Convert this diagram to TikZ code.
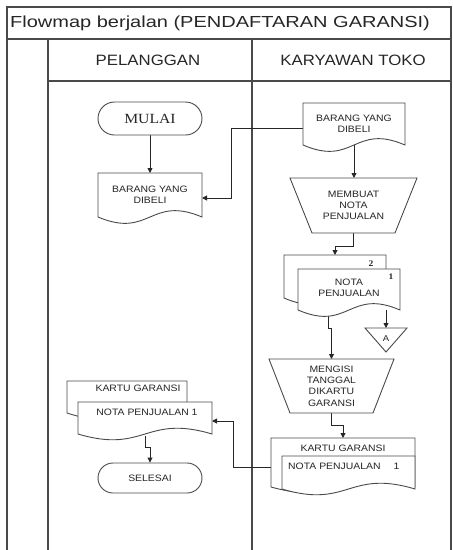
\documentclass[tikz,border=0pt]{standalone}
\usepackage{fontspec}
\setmainfont{Liberation Sans}[FakeStretch=1.12]
\newfontfamily\titlefont{Liberation Sans}[FakeStretch=1.25]
\newfontfamily\termfont{Liberation Serif}[FakeStretch=1.12]
\usetikzlibrary{calc,arrows.meta}

\pgfdeclarelayer{bg}
\pgfdeclarelayer{shapes}
\pgfsetlayers{bg,shapes,main}

\definecolor{ink}{HTML}{262626}
\definecolor{rule}{HTML}{4A4A4A}

\tikzset{
  frameline/.style={draw=rule, line width=1.1pt},
  outline/.style={draw=rule, line width=0.9pt, fill=white},
  arr/.style={draw=ink, line width=0.9pt, -{Triangle[length=5pt,width=5pt]}},
  lanehead/.style={font=\fontsize{15}{17}\selectfont, text=ink},
  doctext/.style={font=\fontsize{9.3}{11.2}\selectfont, text=ink, align=center, inner sep=0pt},
  box/.style 2 args={inner sep=0pt, outer sep=0pt, minimum width=#1pt, minimum height=#2pt,
    doctext},
  term/.style={draw=rule, line width=0.9pt, fill=white, inner sep=0pt,
    minimum width=104pt, minimum height=#1pt, rounded corners=#1/2*1pt},
  pagenum/.style={font=\termfont\bfseries\fontsize{8.5}{9}\selectfont, text=ink, inner sep=0pt},
}

% document symbol: flat top, S-shaped lower edge
\newcommand\docoutline[2][20]{%
  \begin{pgfonlayer}{shapes}
  \path[outline] (#2.north west) -- (#2.north east) -- (#2.south east)
    .. controls ($(#2.south)+(0,-#1)$) and ($(#2.south)+(0,#1)$) .. (#2.south west) -- cycle;
  \end{pgfonlayer}}

% manual operation symbol: trapezoid narrowing downwards
\newcommand\manualop[2]{%
  \begin{pgfonlayer}{shapes}
  \path[outline] (#1.north west) -- (#1.north east) -- ($(#1.south east)+(-#2,0)$)
    -- ($(#1.south west)+(#2,0)$) -- cycle;
  \end{pgfonlayer}}

\begin{document}
\begin{tikzpicture}[x=1pt,y=-1pt]
\useasboundingbox (0,0) rectangle (453,550);

% ---- swimlane frame ----
\node[anchor=west, inner sep=0pt, text=ink, font=\titlefont\fontsize{16}{18}\selectfont]
  (title) at (10,23.5) {Flowmap berjalan (PENDAFTARAN GARANSI)};
\node[lanehead] (laneA) at (148,60) {PELANGGAN};
\node[lanehead] (laneB) at (353,60) {KARYAWAN TOKO};

% ---- PELANGGAN lane ----
\node[term=33, font=\termfont\fontsize{14}{16}\selectfont, text=ink]
  (m) at (150,118.5) {MULAI};
\node[box={104}{44}] (d1) at (150,195) {BARANG YANG\\DIBELI};
\docoutline[22]{d1}

\node[box={120}{32}] (b5) at (127,397) {};
\node[box={134}{32}] (f5) at (145,418) {};
\docoutline[20]{b5}
\docoutline[20]{f5}
\node[doctext] (b5t) at (138,388) {KARTU GARANSI};
\node[doctext] (f5t) at (147,412) {NOTA PENJUALAN 1};

\node[term=30, font=\fontsize{9.3}{11}\selectfont, text=ink] (s) at (150,478) {SELESAI};

% ---- KARYAWAN TOKO lane ----
\node[box={102}{42}] (d2) at (354,124) {BARANG YANG\\DIBELI};
\docoutline[22]{d2}

\node[box={127}{55}] (t1) at (353.5,205.5) {MEMBUAT\\NOTA\\PENJUALAN};
\manualop{t1}{22}

\node[box={102}{43}] (n1b) at (335,276.5) {};
\node[box={102}{41}] (n1) at (349,289.5) {};
\docoutline[22]{n1b}
\docoutline[22]{n1}
\node[doctext] (n1t) at (349,287.5) {NOTA\\PENJUALAN};
\node[pagenum] (p2) at (371,264) {2};
\node[pagenum] (p1) at (391,277) {1};

% off-page connector
\coordinate (conAtop) at (386,328);
\begin{pgfonlayer}{shapes}
  \path[outline] (365,328) -- (407,328) -- (386,352) -- cycle;
\end{pgfonlayer}
\node[doctext, font=\fontsize{8.5}{10}\selectfont] (conA) at (386,338.5) {A};

\node[box={125}{54}] (t2) at (331.5,386) {MENGISI\\TANGGAL\\DIKARTU\\GARANSI};
\manualop{t2}{21}

\node[box={144}{49}] (b3) at (343,462.5) {};
\node[box={133}{33}] (f4) at (348.5,472.5) {};
\docoutline[20]{b3}
\docoutline[20]{f4}
\node[doctext] (b3t) at (343,448) {KARTU GARANSI};
\node[doctext, anchor=west] (f4t) at (288,466) {NOTA PENJUALAN\hspace{13pt}1};

% ---- frame lines and connectors (behind the symbols) ----
\begin{pgfonlayer}{bg}
  \draw[frameline] (7,550) -- (7,7) -- (451,7) -- (451,550);
  \draw[frameline] (7,39) -- (451,39);
  \draw[frameline] (48,81) -- (451,81);
  \draw[frameline] (48,39) -- (48,550);
  \draw[frameline] (252,39) -- (252,550);

  \draw[arr] (m) -- (d1);
  \draw[arr] ($(d2.west)+(0,4)$) -- ++(-72,0) |- ($(d1.east)+(0,3)$);
  \draw[arr] (d2.south) -- (d2.south |- t1.north);
  \draw[arr] (t1.south) -- ++(0,13) -| (n1b.north);
  \draw[arr] ($(n1.south west)+(30,6)$) -- ++(0,12) -| (t2.north);
  \draw[arr] (n1.south -| conAtop) -- (conAtop);
  \draw[arr] (t2.south) -- ++(0,12) -| (b3.north);
  \draw[arr] ($(b3.west)+(0,4.5)$) -- ++(-38,0) |- ($(f5.east)+(0,3)$);
  \draw[arr] ($(f5.south)+(0,2)$) -- ++(0,11) -| (s.north);
\end{pgfonlayer}
\end{tikzpicture}
\end{document}
